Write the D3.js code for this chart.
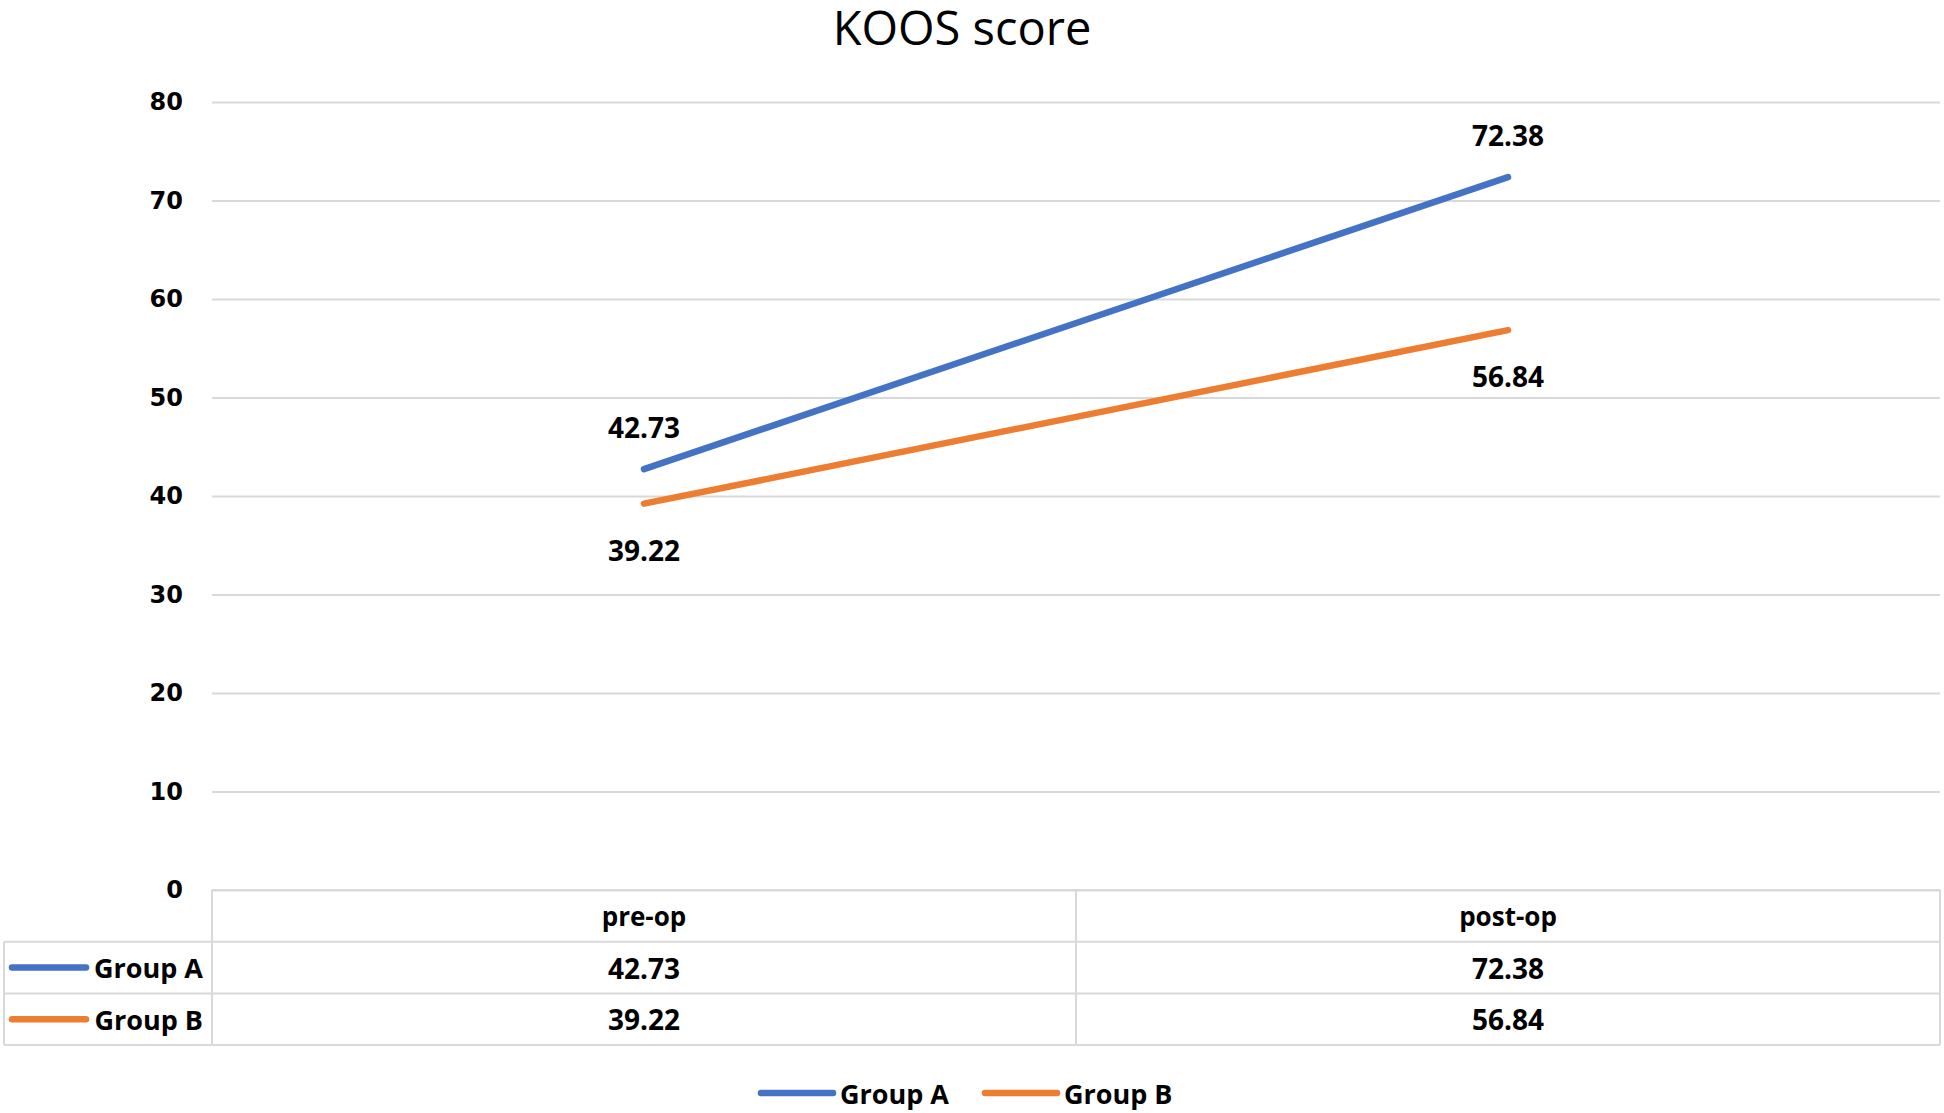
<!DOCTYPE html>
<html lang="en">
<head>
	<meta charset="UTF-8">
	<title>KOOS score</title>
	<style>
		body { margin: 0; background: #fff; }
		text { fill: #000; }
	</style>
</head>
<body>
	<script src="https://cdn.jsdelivr.net/npm/d3@7"></script>
	<script>
		var categories = ["pre-op", "post-op"],
			seriesNames = ["Group A", "Group B"],
			groupA = [42.73, 72.38],
			groupB = [39.22, 56.84],
			yTicks = [0, 10, 20, 30, 40, 50, 60, 70, 80];

		var width = 1944,
			height = 1113,
			plotLeft = 212,
			plotRight = 1940,
			plotTop = 102,
			plotBottom = 890,
			rowH = 51.7,
			colors = ["#4472C4", "#ED7D31"],
			grid = "#d9d9d9",
			font = "'Open Sans', sans-serif";

		var series = [
			{name: seriesNames[0], values: groupA, color: colors[0], dy: -42},
			{name: seriesNames[1], values: groupB, color: colors[1], dy: 46}
		];

		var x = d3.scaleBand()
				.domain(categories)
				.range([plotLeft, plotRight]),
			y = d3.scaleLinear()
				.domain([0, 80])
				.range([plotBottom, plotTop]);

		function cx(c) {
			return x(c) + x.bandwidth() / 2;
		}

		var svg = d3.select("body").append("svg")
			.attr("width", width)
			.attr("height", height)

		// title
		svg.append("text")
			.attr("x", 962)
			.attr("y", 27)
			.attr("text-anchor", "middle")
			.attr("dominant-baseline", "central")
			.style("font-family", font)
			.style("font-size", "47px")
			.text("KOOS score")

		// y axis + gridlines
		var yAxis = d3.axisLeft(y)
			.tickValues(yTicks)
			.tickSize(-(plotRight - plotLeft))
			.tickPadding(29);

		var gy = svg.append("g")
			.attr("class", "y-axis")
			.attr("transform", "translate(" + plotLeft + ",0)")
			.call(yAxis)

		gy.select(".domain").remove()
		gy.selectAll(".tick line")
			.attr("stroke", grid)
			.attr("stroke-width", 2)
		gy.selectAll(".tick text")
			.style("font-family", "'DejaVu Sans', sans-serif")
			.style("font-weight", "bold")
			.style("font-size", "24px")
			.attr("fill", "#000")

		// lines
		var line = d3.line()
			.x(function(d, i){ return cx(categories[i]); })
			.y(function(d){ return y(d); })

		svg.selectAll("path.series")
			.data(series)
			.enter()
			.append("path")
			.attr("class", "series")
			.attr("d", function(d){ return line(d.values); })
			.attr("stroke", function(d){ return d.color; })
			.attr("stroke-width", 6.5)
			.attr("stroke-linecap", "round")
			.attr("fill", "none")

		// data labels
		series.forEach(function(s){
			svg.selectAll(null)
				.data(s.values)
				.enter()
				.append("text")
				.attr("x", function(d, i){ return cx(categories[i]); })
				.attr("y", function(d){ return y(d) + s.dy; })
				.attr("text-anchor", "middle")
				.attr("dominant-baseline", "central")
				.style("font-family", font)
				.style("font-weight", "bold")
				.style("font-size", "28px")
				.text(function(d){ return d.toFixed(2); })
		})

		// data table
		var table = svg.append("g").attr("class", "table")
		var r1 = plotBottom + rowH, r2 = plotBottom + 2 * rowH, r3 = plotBottom + 3 * rowH;

		function hline(x1, x2, yy) {
			table.append("line")
				.attr("x1", x1).attr("x2", x2)
				.attr("y1", yy).attr("y2", yy)
				.attr("stroke", grid).attr("stroke-width", 2)
		}
		function vline(xx, y1, y2) {
			table.append("line")
				.attr("x1", xx).attr("x2", xx)
				.attr("y1", y1).attr("y2", y2)
				.attr("stroke", grid).attr("stroke-width", 2)
		}

		hline(plotLeft, plotRight, plotBottom)
		hline(4, plotRight, r1)
		hline(4, plotRight, r2)
		hline(4, plotRight, r3)
		vline(4, r1, r3)
		categories.forEach(function(c){ vline(x(c), plotBottom, r3); })
		vline(plotRight, plotBottom, r3)

		table.selectAll("text.head")
			.data(categories)
			.enter()
			.append("text")
			.attr("class", "head")
			.attr("x", cx)
			.attr("y", (plotBottom + r1) / 2)
			.attr("text-anchor", "middle")
			.attr("dominant-baseline", "central")
			.style("font-family", font)
			.style("font-weight", "bold")
			.style("font-size", "26px")
			.text(function(d){ return d; })

		series.forEach(function(s, k){
			var yy = plotBottom + rowH * (k + 1.5);
			table.append("line")
				.attr("x1", 12).attr("x2", 86)
				.attr("y1", yy).attr("y2", yy)
				.attr("stroke", s.color)
				.attr("stroke-width", 6.5)
				.attr("stroke-linecap", "round")
			table.append("text")
				.attr("x", 203)
				.attr("y", yy)
				.attr("text-anchor", "end")
				.attr("dominant-baseline", "central")
				.style("font-family", font)
				.style("font-weight", "bold")
				.style("font-size", "27px")
				.text(s.name)
			table.selectAll(null)
				.data(s.values)
				.enter()
				.append("text")
				.attr("x", function(d, i){ return cx(categories[i]); })
				.attr("y", yy)
				.attr("text-anchor", "middle")
				.attr("dominant-baseline", "central")
				.style("font-family", font)
				.style("font-weight", "bold")
				.style("font-size", "28px")
				.text(function(d){ return d.toFixed(2); })
		})

		// legend
		var legendX = [761, 985];
		var legend = svg.append("g").attr("class", "legend")
		series.forEach(function(s, k){
			legend.append("line")
				.attr("x1", legendX[k]).attr("x2", legendX[k] + 72)
				.attr("y1", 1093).attr("y2", 1093)
				.attr("stroke", s.color)
				.attr("stroke-width", 6.5)
				.attr("stroke-linecap", "round")
			legend.append("text")
				.attr("x", legendX[k] + 79)
				.attr("y", 1093)
				.attr("dominant-baseline", "central")
				.style("font-family", font)
				.style("font-weight", "bold")
				.style("font-size", "27px")
				.text(s.name)
		})
	</script>
</body>
</html>
